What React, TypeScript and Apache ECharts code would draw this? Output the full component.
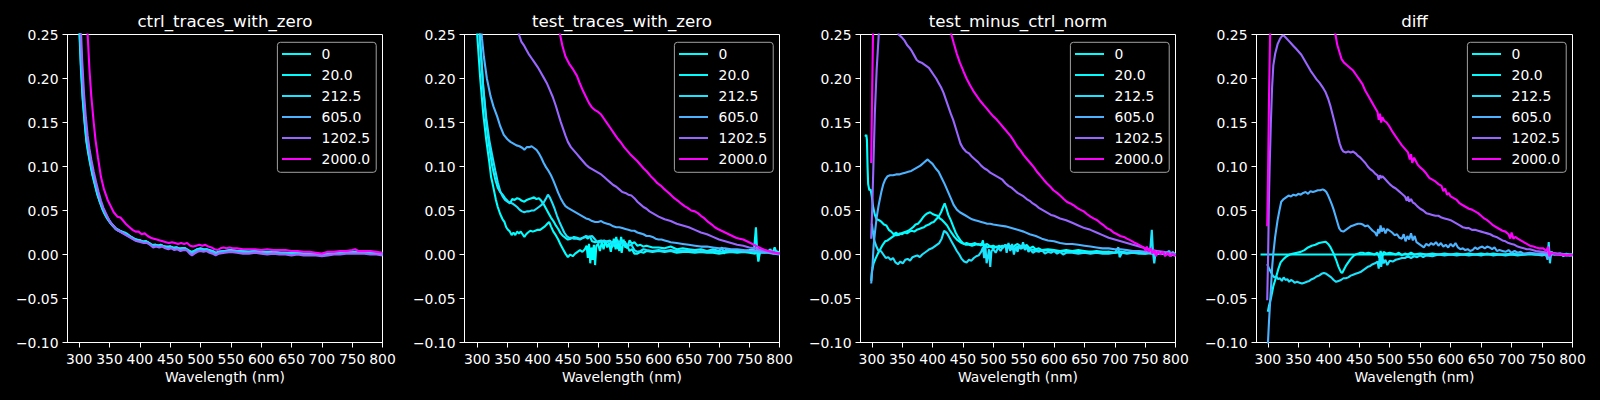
import React, { useEffect, useRef } from "react";
import * as echarts from "echarts";

// ---------- labels, colours, ticks ----------
const SERIES_LABELS = ["0", "20.0", "212.5", "605.0", "1202.5", "2000.0"];
const SERIES_COLORS = ["#00ffff", "#03fcff", "#1be4ff", "#4db2ff", "#9966ff", "#ff00ff"];
const PANEL_TITLES = ["ctrl_traces_with_zero", "test_traces_with_zero", "test_minus_ctrl_norm", "diff"];
const X_TICKS = [300, 350, 400, 450, 500, 550, 600, 650, 700, 750, 800];
const X_LABEL = "Wavelength (nm)";

// ---------- panel 1: ctrl_traces_with_zero ----------
const ctrl_0 = [[290,0.60],[295,0.40],[300,0.26],[303,0.21],[306,0.175],[309,0.15],[312,0.128],[315,0.115],[318,0.104],[322,0.090],[326,0.079],[330,0.068],[334,0.060],[338,0.052],[342,0.046],[346,0.041],[350,0.037],[355,0.033],[360,0.029],[365,0.027],[370,0.026],[375,0.024],[380,0.022],[385,0.020],[390,0.018],[395,0.016],[400,0.016],[405,0.014],[410,0.015],[415,0.013],[420,0.010],[425,0.011],[430,0.010],[435,0.011],[440,0.009],[445,0.008],[450,0.009],[455,0.007],[460,0.008],[465,0.006],[470,0.007],[475,0.007],[480,0.004],[485,0.002],[490,0.004],[495,0.006],[500,0.006],[505,0.005],[510,0.006],[515,0.004],[520,0.003],[525,0.001],[530,0.003],[540,0.004],[550,0.005],[560,0.004],[570,0.003],[580,0.003],[590,0.004],[600,0.003],[610,0.002],[620,0.003],[630,0.002],[640,0.002],[650,0.001],[660,0.002],[670,0.001],[680,0.000],[690,0.001],[700,-0.001],[710,0.001],[720,0.002],[730,0.001],[740,0.002],[750,0.002],[760,0.003],[770,0.002],[780,0.002],[790,0.001],[800,0.000]];
const ctrl_20 = [[290,0.60],[295,0.40],[300,0.265],[303,0.215],[306,0.178],[309,0.152],[312,0.130],[315,0.117],[318,0.105],[322,0.091],[326,0.080],[330,0.069],[334,0.060],[338,0.053],[342,0.047],[346,0.042],[350,0.038],[355,0.033],[360,0.030],[365,0.028],[370,0.026],[375,0.025],[380,0.023],[385,0.020],[390,0.018],[395,0.017],[400,0.016],[405,0.015],[410,0.015],[415,0.013],[420,0.011],[425,0.011],[430,0.010],[435,0.011],[440,0.009],[445,0.009],[450,0.009],[455,0.008],[460,0.008],[465,0.007],[470,0.007],[475,0.007],[480,0.005],[485,0.003],[490,0.004],[495,0.006],[500,0.007],[505,0.006],[510,0.006],[515,0.005],[520,0.004],[525,0.002],[530,0.003],[540,0.004],[550,0.005],[560,0.004],[570,0.004],[580,0.003],[590,0.004],[600,0.003],[610,0.003],[620,0.003],[630,0.002],[640,0.002],[650,0.002],[660,0.002],[670,0.001],[680,0.001],[690,0.001],[700,0.000],[710,0.001],[720,0.002],[730,0.002],[740,0.002],[750,0.003],[760,0.003],[770,0.002],[780,0.002],[790,0.002],[800,0.001]];
const ctrl_212 = [[291,0.60],[296,0.40],[301,0.265],[304,0.215],[307,0.178],[310,0.152],[313,0.131],[316,0.117],[319,0.105],[323,0.091],[327,0.080],[331,0.069],[335,0.060],[339,0.053],[343,0.047],[347,0.041],[351,0.037],[356,0.033],[361,0.029],[366,0.027],[371,0.025],[376,0.024],[381,0.022],[386,0.020],[391,0.018],[396,0.016],[401,0.016],[406,0.014],[411,0.015],[416,0.013],[421,0.010],[426,0.011],[431,0.010],[436,0.010],[441,0.009],[446,0.008],[451,0.009],[456,0.007],[461,0.008],[466,0.006],[471,0.007],[476,0.006],[481,0.004],[486,0.002],[491,0.004],[496,0.005],[501,0.006],[506,0.005],[511,0.005],[516,0.004],[521,0.003],[526,0.001],[531,0.003],[540,0.003],[550,0.004],[560,0.004],[570,0.003],[580,0.003],[590,0.003],[600,0.003],[610,0.002],[620,0.002],[630,0.002],[640,0.001],[650,0.001],[660,0.002],[670,0.001],[680,0.000],[690,0.000],[700,-0.001],[710,0.000],[720,0.001],[730,0.001],[740,0.002],[750,0.002],[760,0.002],[770,0.002],[780,0.001],[790,0.001],[800,0.000]];
const ctrl_605 = [[291,0.60],[296,0.40],[301,0.27],[304,0.22],[307,0.182],[310,0.155],[313,0.134],[316,0.119],[319,0.107],[323,0.093],[327,0.081],[331,0.070],[335,0.061],[339,0.053],[343,0.047],[347,0.042],[351,0.037],[356,0.033],[361,0.029],[366,0.027],[371,0.025],[376,0.023],[381,0.021],[386,0.019],[391,0.017],[396,0.015],[401,0.015],[406,0.014],[411,0.014],[416,0.012],[421,0.009],[426,0.010],[431,0.009],[436,0.010],[441,0.008],[446,0.007],[451,0.008],[456,0.006],[461,0.007],[466,0.005],[471,0.006],[476,0.006],[481,0.003],[486,0.001],[491,0.003],[496,0.005],[501,0.005],[506,0.004],[511,0.005],[516,0.003],[521,0.002],[526,0.000],[531,0.002],[540,0.003],[550,0.004],[560,0.003],[570,0.002],[580,0.002],[590,0.003],[600,0.002],[610,0.001],[620,0.002],[630,0.001],[640,0.001],[650,0.000],[660,0.001],[670,0.000],[680,0.000],[690,0.000],[700,-0.001],[710,0.000],[720,0.001],[730,0.001],[740,0.002],[750,0.002],[760,0.002],[770,0.002],[780,0.001],[790,0.001],[800,0.000]];
const ctrl_1202 = [[292,0.60],[297,0.40],[302,0.27],[305,0.22],[308,0.183],[311,0.156],[314,0.135],[317,0.120],[320,0.108],[324,0.094],[328,0.082],[332,0.071],[336,0.061],[340,0.053],[344,0.047],[348,0.041],[352,0.036],[357,0.032],[362,0.028],[367,0.026],[372,0.024],[377,0.022],[382,0.020],[387,0.018],[392,0.016],[397,0.015],[402,0.014],[407,0.013],[412,0.013],[417,0.011],[422,0.008],[427,0.009],[432,0.008],[437,0.009],[442,0.007],[447,0.006],[452,0.007],[457,0.005],[462,0.006],[467,0.004],[472,0.005],[477,0.005],[482,0.001],[486,-0.001],[490,0.001],[495,0.003],[500,0.004],[505,0.003],[510,0.004],[515,0.002],[520,0.001],[525,-0.001],[530,0.001],[540,0.002],[550,0.003],[560,0.002],[570,0.001],[580,0.001],[590,0.002],[600,0.001],[610,0.000],[620,0.001],[630,0.000],[640,0.000],[650,-0.001],[660,0.000],[670,-0.001],[680,-0.001],[690,-0.001],[700,-0.002],[710,-0.001],[720,0.000],[730,0.000],[740,0.001],[750,0.001],[760,0.001],[770,0.001],[780,0.000],[790,0.000],[800,-0.001]];
const ctrl_2000 = [[295,0.60],[300,0.40],[305,0.33],[310,0.27],[314,0.25],[317,0.21],[320,0.18],[324,0.150],[327,0.130],[331,0.110],[336,0.088],[341,0.074],[347,0.062],[352,0.055],[357,0.048],[363,0.043],[368,0.042],[373,0.038],[378,0.034],[383,0.031],[388,0.028],[393,0.026],[398,0.026],[403,0.023],[408,0.024],[413,0.021],[418,0.019],[423,0.018],[428,0.017],[433,0.016],[438,0.015],[443,0.014],[448,0.013],[453,0.014],[458,0.013],[463,0.012],[468,0.013],[473,0.012],[478,0.013],[483,0.010],[488,0.009],[493,0.010],[498,0.011],[503,0.010],[508,0.011],[513,0.009],[518,0.008],[523,0.006],[528,0.005],[533,0.007],[538,0.008],[543,0.007],[548,0.008],[553,0.007],[560,0.007],[570,0.006],[580,0.006],[590,0.006],[600,0.005],[610,0.006],[620,0.005],[630,0.005],[640,0.005],[650,0.004],[660,0.004],[670,0.003],[680,0.003],[690,0.002],[700,0.001],[710,0.003],[720,0.003],[730,0.004],[740,0.004],[750,0.005],[755,0.006],[760,0.004],[770,0.004],[780,0.004],[790,0.003],[800,0.002]];

// ---------- panel 2: test_traces_with_zero ----------
const test_0 = [[290,0.45],[300,0.25],[305,0.20],[310,0.16],[315,0.13],[320,0.105],[323,0.088],[325,0.082],[328,0.072],[331,0.062],[334,0.054],[338,0.046],[342,0.040],[345,0.037],[348,0.031],[351,0.028],[354,0.026],[357,0.022],[360,0.025],[363,0.022],[366,0.026],[369,0.024],[372,0.026],[375,0.023],[378,0.020],[381,0.023],[384,0.025],[388,0.027],[392,0.026],[396,0.027],[400,0.028],[404,0.028],[408,0.030],[412,0.032],[416,0.035],[419,0.037],[422,0.032],[426,0.026],[430,0.022],[434,0.017],[438,0.011],[442,0.006],[446,0.001],[450,-0.003],[454,0.000],[458,-0.002],[462,0.001],[466,0.003],[470,0.005],[474,0.003],[478,0.006],[481,0.010],[483,-0.004],[485,0.012],[487,-0.010],[489,0.008],[491,-0.006],[493,0.011],[495,-0.012],[497,0.010],[500,0.012],[503,0.004],[506,0.014],[509,0.006],[512,0.016],[515,0.008],[518,0.013],[521,0.003],[524,0.015],[527,0.009],[530,0.020],[533,0.006],[536,0.012],[539,0.002],[542,0.017],[545,0.008],[548,0.010],[552,0.004],[556,0.006],[560,0.001],[565,0.001],[570,0.003],[575,0.002],[580,0.004],[590,0.003],[600,0.004],[610,0.003],[620,0.004],[630,0.002],[640,0.003],[650,0.003],[660,0.002],[670,0.003],[680,0.002],[690,0.002],[700,0.001],[710,0.002],[720,0.003],[730,0.002],[740,0.003],[750,0.002],[760,0.001],[763,0.008],[765,-0.007],[768,0.003],[775,0.002],[785,0.003],[790,0.001],[795,0.004],[800,0.001]];
const test_20 = [[290,0.50],[300,0.30],[305,0.24],[310,0.19],[315,0.15],[320,0.122],[325,0.10],[330,0.085],[334,0.076],[338,0.071],[342,0.068],[346,0.064],[350,0.061],[354,0.058],[358,0.063],[362,0.062],[366,0.064],[370,0.063],[374,0.061],[378,0.060],[382,0.062],[386,0.063],[390,0.064],[394,0.065],[398,0.063],[402,0.064],[406,0.061],[410,0.057],[414,0.052],[418,0.047],[422,0.042],[426,0.038],[430,0.033],[434,0.029],[438,0.024],[442,0.021],[446,0.019],[450,0.017],[455,0.018],[460,0.020],[465,0.019],[470,0.018],[475,0.019],[480,0.020],[483,0.018],[486,0.021],[490,0.015],[495,0.014],[500,0.015],[505,0.016],[510,0.014],[515,0.015],[520,0.016],[523,0.008],[526,0.018],[529,0.006],[532,0.017],[535,0.004],[538,0.020],[541,0.010],[544,0.015],[548,0.007],[552,0.016],[556,0.012],[560,0.014],[565,0.010],[570,0.011],[575,0.009],[580,0.010],[590,0.008],[600,0.008],[610,0.007],[620,0.009],[630,0.006],[640,0.007],[650,0.006],[660,0.005],[670,0.006],[680,0.004],[690,0.006],[700,0.004],[705,0.008],[708,0.001],[712,0.006],[720,0.004],[730,0.005],[740,0.004],[750,0.005],[758,0.006],[761,0.031],[763,0.004],[765,-0.008],[767,0.005],[772,0.004],[780,0.003],[785,0.006],[788,0.001],[792,0.008],[795,0.002],[800,0.003]];
const test_212 = [[290,0.50],[300,0.30],[305,0.24],[310,0.19],[315,0.155],[320,0.13],[325,0.112],[330,0.095],[334,0.082],[338,0.072],[342,0.066],[346,0.062],[350,0.060],[354,0.059],[358,0.058],[362,0.056],[366,0.054],[370,0.051],[374,0.049],[378,0.048],[382,0.049],[386,0.049],[390,0.050],[394,0.050],[398,0.052],[402,0.054],[406,0.056],[410,0.059],[414,0.064],[417,0.068],[420,0.065],[424,0.059],[428,0.052],[432,0.044],[436,0.037],[440,0.031],[444,0.025],[448,0.021],[452,0.019],[456,0.019],[460,0.018],[465,0.018],[470,0.017],[475,0.019],[480,0.021],[485,0.020],[490,0.021],[495,0.017],[500,0.013],[505,0.015],[510,0.016],[515,0.014],[520,0.015],[525,0.011],[530,0.013],[535,0.015],[540,0.012],[545,0.013],[550,0.010],[555,0.011],[560,0.005],[565,0.003],[570,0.004],[575,0.006],[580,0.005],[590,0.004],[600,0.005],[610,0.004],[620,0.005],[630,0.004],[640,0.004],[650,0.005],[660,0.003],[670,0.004],[680,0.003],[690,0.004],[700,0.003],[710,0.004],[720,0.003],[730,0.004],[740,0.003],[750,0.004],[760,0.003],[770,0.002],[780,0.003],[790,0.002],[800,0.002]];
const test_605 = [[290,0.55],[300,0.36],[305,0.27],[308,0.245],[311,0.225],[316,0.20],[322,0.18],[327,0.168],[333,0.157],[338,0.146],[344,0.136],[350,0.131],[355,0.128],[360,0.126],[365,0.124],[370,0.123],[375,0.121],[378,0.119],[382,0.122],[386,0.122],[390,0.123],[394,0.121],[398,0.119],[402,0.115],[406,0.110],[410,0.104],[414,0.099],[418,0.095],[422,0.090],[426,0.084],[430,0.077],[434,0.070],[438,0.064],[442,0.059],[446,0.055],[450,0.053],[455,0.051],[460,0.049],[465,0.047],[470,0.045],[475,0.043],[480,0.041],[485,0.040],[490,0.038],[495,0.037],[500,0.037],[505,0.038],[510,0.036],[515,0.035],[520,0.034],[525,0.032],[530,0.031],[535,0.031],[540,0.030],[545,0.029],[550,0.028],[555,0.027],[560,0.027],[565,0.025],[570,0.024],[575,0.023],[580,0.021],[585,0.021],[590,0.020],[595,0.018],[600,0.017],[605,0.017],[610,0.016],[615,0.015],[620,0.014],[630,0.013],[640,0.012],[650,0.011],[660,0.010],[670,0.009],[680,0.009],[690,0.008],[700,0.007],[710,0.007],[720,0.006],[730,0.006],[740,0.005],[750,0.004],[760,0.004],[770,0.003],[780,0.002],[790,0.001],[800,0.000]];
const test_1202 = [[350,0.32],[360,0.28],[365,0.262],[369,0.25],[373,0.242],[377,0.238],[381,0.233],[385,0.228],[390,0.223],[395,0.218],[400,0.213],[405,0.207],[410,0.201],[415,0.195],[420,0.187],[425,0.179],[430,0.169],[434,0.160],[438,0.151],[442,0.143],[446,0.135],[450,0.128],[455,0.122],[460,0.118],[465,0.114],[470,0.110],[475,0.106],[480,0.102],[485,0.099],[490,0.097],[495,0.095],[500,0.093],[505,0.091],[510,0.088],[515,0.085],[520,0.082],[525,0.079],[530,0.077],[535,0.074],[540,0.071],[545,0.070],[550,0.068],[555,0.067],[560,0.064],[565,0.060],[570,0.057],[575,0.054],[580,0.052],[585,0.049],[590,0.047],[595,0.045],[600,0.043],[610,0.040],[620,0.038],[630,0.035],[640,0.033],[650,0.031],[660,0.028],[670,0.025],[680,0.023],[690,0.020],[700,0.017],[710,0.015],[720,0.013],[730,0.011],[740,0.010],[750,0.008],[760,0.007],[770,0.005],[780,0.004],[790,0.002],[800,0.001]];
const test_2000 = [[420,0.31],[430,0.272],[437,0.25],[441,0.237],[446,0.225],[452,0.217],[458,0.211],[465,0.203],[470,0.194],[475,0.186],[480,0.179],[485,0.172],[490,0.167],[495,0.164],[500,0.162],[505,0.159],[510,0.154],[515,0.149],[520,0.144],[526,0.138],[532,0.132],[538,0.127],[543,0.122],[548,0.118],[553,0.114],[559,0.110],[565,0.106],[570,0.102],[575,0.098],[581,0.094],[587,0.089],[593,0.085],[598,0.081],[604,0.078],[610,0.074],[615,0.071],[620,0.068],[626,0.064],[632,0.061],[637,0.058],[643,0.055],[648,0.053],[654,0.050],[660,0.049],[665,0.047],[670,0.044],[676,0.041],[682,0.037],[688,0.034],[693,0.031],[698,0.029],[704,0.027],[710,0.025],[716,0.023],[722,0.021],[728,0.019],[734,0.018],[740,0.017],[746,0.015],[752,0.013],[758,0.011],[764,0.009],[770,0.007],[776,0.005],[782,0.004],[788,0.003],[794,0.002],[800,0.001]];

// ---------- panel 3: test_minus_ctrl_norm ----------
const norm_0 = [[289,0.134],[291,0.136],[292,0.130],[293,0.100],[294,0.080],[296,0.073],[298,0.074],[300,0.066],[302,0.055],[305,0.045],[308,0.040],[312,0.039],[316,0.037],[320,0.034],[324,0.033],[328,0.028],[332,0.026],[336,0.023],[340,0.025],[344,0.022],[348,0.024],[352,0.025],[356,0.026],[360,0.027],[364,0.029],[368,0.031],[372,0.034],[376,0.035],[380,0.038],[384,0.042],[388,0.045],[392,0.047],[396,0.048],[400,0.046],[404,0.045],[408,0.044],[412,0.041],[416,0.039],[420,0.036],[424,0.033],[428,0.028],[432,0.024],[436,0.020],[440,0.017],[444,0.015],[448,0.013],[452,0.012],[456,0.013],[460,0.012],[465,0.012],[470,0.013],[475,0.011],[480,0.012],[485,0.010],[490,0.012],[495,0.009],[500,0.010],[505,0.008],[510,0.010],[515,0.007],[520,0.011],[525,0.008],[530,0.010],[535,0.006],[540,0.009],[545,0.007],[550,0.008],[555,0.011],[560,0.007],[565,0.009],[570,0.006],[575,0.007],[580,0.005],[590,0.006],[600,0.005],[610,0.004],[620,0.005],[630,0.004],[640,0.005],[650,0.004],[660,0.003],[670,0.004],[680,0.003],[690,0.003],[700,0.002],[710,0.003],[720,0.002],[730,0.003],[740,0.002],[750,0.002],[760,0.001],[770,0.002],[780,0.001],[790,0.001],[800,0.000]];
const norm_20 = [[299,-0.030],[300,-0.020],[303,-0.010],[306,-0.005],[310,0.001],[314,0.006],[318,0.011],[322,0.015],[326,0.016],[330,0.018],[334,0.020],[338,0.022],[342,0.022],[346,0.024],[350,0.023],[354,0.025],[358,0.024],[362,0.026],[366,0.027],[370,0.026],[374,0.028],[378,0.029],[382,0.030],[386,0.031],[390,0.033],[394,0.034],[398,0.036],[402,0.037],[406,0.040],[410,0.043],[414,0.048],[418,0.055],[420,0.058],[423,0.052],[426,0.045],[430,0.039],[434,0.032],[438,0.025],[442,0.020],[446,0.016],[450,0.013],[455,0.011],[460,0.011],[465,0.010],[470,0.011],[475,0.012],[480,0.010],[483,0.016],[485,0.004],[487,0.012],[490,0.008],[495,0.009],[500,0.007],[505,0.009],[510,0.008],[515,0.010],[520,0.009],[525,0.011],[530,0.006],[535,0.010],[540,0.012],[545,0.009],[550,0.011],[555,0.007],[560,0.006],[570,0.005],[580,0.004],[590,0.005],[600,0.004],[610,0.003],[620,0.004],[630,0.003],[640,0.003],[650,0.002],[660,0.003],[670,0.002],[680,0.002],[690,0.003],[700,0.002],[710,0.003],[720,0.002],[730,0.002],[740,0.002],[750,0.001],[760,0.002],[770,0.001],[780,0.001],[790,0.001],[800,0.000]];
const norm_212 = [[300,0.035],[302,0.025],[304,0.016],[307,0.010],[311,0.004],[315,0.004],[319,0.000],[323,-0.004],[327,-0.003],[331,-0.006],[335,-0.004],[339,-0.009],[343,-0.011],[347,-0.008],[351,-0.010],[355,-0.006],[359,-0.005],[363,-0.007],[367,-0.003],[371,-0.002],[375,-0.001],[379,-0.003],[383,0.000],[387,0.002],[391,0.004],[395,0.006],[399,0.007],[403,0.009],[407,0.011],[411,0.013],[415,0.018],[419,0.027],[421,0.026],[424,0.024],[428,0.019],[432,0.014],[436,0.009],[440,0.004],[444,0.000],[448,-0.005],[452,-0.008],[456,-0.009],[460,-0.006],[464,-0.007],[468,-0.004],[472,-0.002],[476,-0.001],[480,0.003],[483,0.008],[485,-0.004],[487,0.010],[489,-0.010],[491,-0.003],[493,0.006],[495,-0.014],[497,0.004],[500,0.006],[504,0.002],[508,0.008],[512,0.004],[516,0.009],[520,0.011],[522,0.002],[525,0.013],[528,0.004],[531,0.012],[534,0.000],[537,0.009],[540,0.003],[543,0.011],[546,0.006],[549,0.014],[552,0.005],[555,0.009],[558,0.003],[561,0.006],[565,0.002],[570,0.004],[575,0.003],[580,0.005],[585,0.001],[590,0.003],[595,0.002],[600,0.004],[605,0.001],[610,0.003],[615,0.000],[620,0.002],[630,0.002],[640,0.001],[650,0.002],[660,0.001],[670,0.002],[680,0.001],[690,0.001],[700,0.002],[706,0.008],[708,-0.003],[712,0.002],[720,0.001],[730,0.002],[740,0.001],[750,0.001],[758,0.002],[761,0.028],[763,0.002],[765,-0.010],[767,0.001],[775,0.001],[785,0.002],[790,0.004],[792,-0.002],[795,0.003],[800,0.000]];
const norm_605 = [[299,-0.033],[301,-0.015],[303,0.010],[305,0.024],[308,0.042],[311,0.055],[313,0.062],[316,0.072],[319,0.080],[322,0.085],[326,0.089],[330,0.090],[335,0.090],[340,0.091],[345,0.091],[350,0.092],[355,0.093],[360,0.094],[365,0.095],[370,0.097],[375,0.099],[380,0.101],[385,0.104],[390,0.107],[392,0.108],[395,0.106],[400,0.103],[405,0.098],[410,0.094],[415,0.087],[420,0.080],[425,0.072],[430,0.064],[435,0.056],[440,0.051],[445,0.048],[450,0.046],[455,0.044],[460,0.042],[465,0.040],[470,0.039],[475,0.038],[480,0.037],[485,0.036],[490,0.035],[495,0.035],[500,0.034],[510,0.033],[520,0.032],[530,0.030],[540,0.028],[550,0.026],[560,0.023],[570,0.021],[580,0.018],[590,0.016],[600,0.015],[610,0.013],[620,0.012],[630,0.012],[640,0.011],[650,0.010],[660,0.009],[670,0.008],[680,0.007],[690,0.007],[700,0.006],[710,0.006],[720,0.005],[730,0.004],[740,0.004],[750,0.003],[760,0.002],[770,0.002],[780,0.001],[790,0.000],[800,-0.001]];
const norm_1202 = [[299,0.018],[301,0.060],[303,0.110],[305,0.160],[308,0.210],[311,0.245],[313,0.27],[320,0.32],[330,0.31],[340,0.27],[344,0.250],[349,0.247],[354,0.243],[358,0.238],[362,0.235],[366,0.231],[370,0.226],[374,0.221],[378,0.219],[382,0.218],[386,0.216],[390,0.214],[394,0.212],[398,0.208],[402,0.204],[406,0.200],[410,0.195],[414,0.190],[418,0.184],[422,0.176],[426,0.168],[430,0.160],[434,0.153],[438,0.144],[442,0.135],[446,0.126],[450,0.121],[455,0.117],[460,0.115],[465,0.111],[470,0.108],[475,0.105],[480,0.101],[485,0.098],[490,0.096],[495,0.093],[500,0.091],[505,0.089],[510,0.087],[515,0.085],[520,0.081],[525,0.078],[530,0.076],[535,0.073],[540,0.070],[545,0.068],[550,0.066],[555,0.063],[560,0.061],[565,0.058],[570,0.056],[575,0.053],[580,0.051],[585,0.049],[590,0.047],[595,0.045],[600,0.044],[610,0.041],[620,0.039],[630,0.036],[640,0.033],[650,0.030],[660,0.028],[670,0.025],[680,0.022],[690,0.019],[700,0.017],[710,0.015],[720,0.013],[730,0.011],[740,0.009],[750,0.007],[760,0.005],[770,0.004],[780,0.003],[790,0.002],[800,0.000]];
const norm_2000 = [[299,0.104],[300.5,0.18],[302,0.25],[303,0.29],[320,0.45],[400,0.35],[425,0.27],[431,0.25],[435,0.240],[440,0.228],[445,0.218],[451,0.208],[456,0.200],[462,0.192],[467,0.186],[473,0.180],[478,0.175],[484,0.170],[489,0.166],[495,0.161],[500,0.157],[506,0.153],[511,0.149],[517,0.144],[522,0.140],[528,0.135],[533,0.130],[539,0.123],[545,0.118],[550,0.113],[556,0.108],[561,0.104],[567,0.099],[572,0.094],[577,0.090],[583,0.085],[588,0.081],[594,0.077],[599,0.073],[605,0.070],[610,0.067],[616,0.063],[621,0.060],[627,0.058],[632,0.056],[638,0.053],[643,0.051],[649,0.049],[654,0.046],[660,0.043],[665,0.041],[671,0.039],[676,0.036],[682,0.033],[687,0.030],[693,0.028],[698,0.025],[704,0.023],[709,0.021],[715,0.020],[720,0.018],[726,0.016],[731,0.014],[737,0.012],[742,0.010],[748,0.008],[751,0.004],[753,0.009],[756,0.003],[759,0.007],[762,0.001],[765,0.005],[768,-0.002],[771,0.004],[775,0.000],[779,0.003],[783,-0.002],[787,0.002],[791,-0.002],[795,0.001],[800,-0.002]];

// ---------- panel 4: diff ----------
const diff_0 = [[288,0],[800,0]];
const diff_20 = [[300,-0.065],[302,-0.058],[305,-0.050],[309,-0.036],[313,-0.027],[317,-0.017],[321,-0.009],[326,-0.005],[331,-0.002],[336,0.000],[342,0.001],[348,0.002],[354,0.003],[360,0.005],[366,0.008],[372,0.010],[378,0.011],[384,0.013],[390,0.014],[395,0.0145],[399,0.012],[403,0.008],[408,0.001],[412,-0.006],[416,-0.014],[420,-0.020],[422,-0.021],[425,-0.017],[428,-0.013],[432,-0.009],[436,-0.005],[440,-0.002],[444,0.000],[448,0.001],[452,0.002],[456,0.002],[460,0.001],[465,0.002],[470,0.001],[475,0.000],[480,0.002],[483,-0.004],[485,0.004],[488,-0.003],[490,0.003],[495,0.001],[500,0.002],[505,0.001],[510,0.000],[515,0.002],[520,-0.001],[525,0.001],[530,0.000],[535,0.002],[540,0.000],[550,0.001],[560,0.000],[570,0.001],[580,0.000],[590,0.001],[600,0.000],[610,0.001],[620,0.000],[630,0.001],[640,0.000],[650,0.001],[660,0.000],[670,0.001],[680,0.000],[690,0.000],[700,0.001],[710,0.000],[720,0.000],[730,0.001],[740,0.000],[750,0.001],[760,0.000],[770,0.001],[780,0.000],[790,0.000],[800,0.000]];
const diff_212 = [[299,-0.011],[302,-0.016],[305,-0.020],[308,-0.024],[311,-0.026],[314,-0.025],[317,-0.028],[320,-0.027],[323,-0.030],[326,-0.026],[329,-0.029],[332,-0.028],[335,-0.031],[338,-0.029],[341,-0.030],[344,-0.032],[348,-0.031],[352,-0.032],[356,-0.033],[360,-0.032],[364,-0.031],[368,-0.030],[372,-0.028],[376,-0.027],[380,-0.025],[384,-0.024],[388,-0.022],[392,-0.021],[396,-0.022],[400,-0.024],[404,-0.026],[408,-0.029],[412,-0.031],[416,-0.030],[420,-0.029],[424,-0.027],[428,-0.027],[432,-0.026],[436,-0.024],[440,-0.023],[444,-0.022],[448,-0.021],[452,-0.020],[456,-0.018],[460,-0.016],[464,-0.014],[468,-0.013],[472,-0.011],[476,-0.010],[480,-0.008],[482,-0.016],[484,0.002],[486,-0.014],[488,-0.003],[490,-0.010],[493,-0.006],[496,-0.012],[500,-0.007],[505,-0.008],[510,-0.006],[515,-0.005],[520,-0.004],[525,-0.004],[530,-0.002],[535,-0.004],[540,-0.002],[545,-0.003],[550,-0.001],[555,-0.003],[560,-0.001],[570,-0.002],[580,0.000],[590,-0.001],[600,0.000],[610,-0.001],[620,0.000],[630,-0.001],[640,0.000],[650,-0.001],[660,0.001],[670,-0.001],[680,0.000],[690,-0.001],[700,0.000],[710,-0.001],[720,0.000],[730,0.001],[740,0.000],[750,-0.001],[756,0.000],[759,-0.004],[761,0.014],[763,-0.010],[765,0.003],[770,0.000],[780,0.001],[785,-0.002],[790,0.001],[795,-0.001],[800,0.000]];
const diff_605 = [[299.5,-0.11],[302,-0.075],[305,-0.040],[307,-0.015],[309,0.001],[312,0.020],[316,0.039],[319,0.050],[322,0.060],[326,0.063],[330,0.065],[334,0.067],[338,0.066],[342,0.068],[346,0.067],[350,0.069],[354,0.068],[358,0.070],[362,0.071],[366,0.069],[370,0.072],[374,0.071],[378,0.072],[382,0.073],[386,0.073],[390,0.074],[393,0.073],[396,0.071],[399,0.067],[402,0.062],[405,0.057],[408,0.051],[411,0.044],[414,0.037],[417,0.030],[420,0.027],[424,0.026],[428,0.028],[432,0.030],[436,0.032],[440,0.033],[444,0.034],[448,0.035],[452,0.035],[456,0.034],[460,0.032],[464,0.033],[468,0.030],[472,0.027],[476,0.025],[479,0.021],[481,0.029],[483,0.024],[485,0.033],[487,0.026],[490,0.030],[493,0.024],[496,0.029],[500,0.027],[504,0.025],[508,0.022],[512,0.023],[516,0.019],[520,0.018],[523,0.023],[526,0.015],[529,0.021],[532,0.017],[535,0.024],[538,0.016],[541,0.021],[544,0.014],[548,0.012],[552,0.010],[556,0.008],[560,0.012],[564,0.010],[568,0.013],[572,0.011],[576,0.014],[580,0.010],[584,0.013],[588,0.009],[592,0.011],[596,0.008],[600,0.012],[604,0.009],[608,0.013],[612,0.008],[616,0.006],[620,0.007],[624,0.005],[628,0.006],[632,0.004],[636,0.005],[640,0.008],[644,0.006],[648,0.008],[652,0.009],[656,0.007],[660,0.009],[664,0.008],[668,0.006],[672,0.008],[676,0.004],[680,0.005],[685,0.004],[690,0.003],[695,0.005],[700,0.002],[705,0.004],[710,0.002],[715,0.003],[720,0.001],[730,0.002],[740,0.001],[750,0.001],[756,0.002],[759,-0.006],[761,0.008],[763,-0.005],[765,0.003],[770,0.001],[780,0.000],[790,-0.001],[800,-0.001]];
const diff_1202 = [[299,-0.052],[300.5,0.000],[302,0.070],[303,0.100],[305,0.150],[307,0.190],[309,0.215],[312,0.228],[316,0.239],[320,0.245],[323,0.248],[326,0.249],[330,0.246],[334,0.243],[338,0.240],[342,0.237],[346,0.234],[350,0.231],[355,0.227],[360,0.221],[365,0.215],[370,0.209],[375,0.204],[380,0.199],[385,0.195],[390,0.190],[395,0.184],[399,0.177],[403,0.168],[407,0.157],[411,0.146],[415,0.134],[418,0.126],[421,0.120],[424,0.117],[428,0.116],[432,0.117],[436,0.116],[440,0.117],[444,0.115],[448,0.112],[452,0.110],[456,0.107],[460,0.104],[464,0.100],[468,0.097],[472,0.095],[476,0.092],[480,0.090],[482,0.085],[484,0.090],[486,0.087],[488,0.089],[492,0.086],[496,0.083],[500,0.080],[505,0.077],[510,0.075],[515,0.072],[520,0.069],[525,0.066],[528,0.061],[530,0.066],[532,0.060],[535,0.063],[538,0.059],[541,0.058],[545,0.055],[550,0.052],[555,0.050],[560,0.047],[565,0.046],[570,0.045],[575,0.044],[580,0.044],[585,0.042],[590,0.041],[595,0.040],[600,0.039],[605,0.037],[610,0.035],[615,0.033],[620,0.031],[625,0.030],[630,0.030],[635,0.028],[640,0.028],[645,0.027],[650,0.026],[655,0.025],[660,0.024],[665,0.023],[670,0.021],[675,0.020],[680,0.018],[685,0.016],[690,0.015],[695,0.013],[700,0.012],[705,0.011],[710,0.009],[715,0.008],[720,0.007],[725,0.006],[730,0.006],[740,0.004],[750,0.003],[760,0.002],[770,0.001],[780,0.001],[790,0.000],[800,-0.001]];
const diff_2000 = [[299,0.032],[300.5,0.10],[302,0.18],[303.5,0.24],[305,0.30],[330,0.50],[400,0.30],[408,0.262],[411,0.250],[414,0.238],[418,0.229],[421,0.222],[425,0.218],[430,0.215],[435,0.212],[440,0.209],[445,0.204],[450,0.199],[455,0.194],[460,0.186],[465,0.180],[470,0.174],[475,0.168],[480,0.162],[482,0.153],[484,0.160],[486,0.150],[488,0.156],[491,0.152],[495,0.150],[500,0.145],[505,0.139],[510,0.134],[515,0.129],[520,0.124],[525,0.120],[530,0.116],[533,0.108],[535,0.114],[537,0.104],[540,0.110],[543,0.106],[546,0.102],[550,0.099],[555,0.096],[560,0.092],[565,0.087],[570,0.085],[575,0.083],[580,0.080],[585,0.078],[588,0.072],[591,0.075],[594,0.068],[597,0.070],[600,0.066],[605,0.064],[610,0.062],[615,0.058],[620,0.056],[625,0.054],[630,0.052],[635,0.051],[640,0.049],[645,0.047],[650,0.044],[655,0.041],[660,0.039],[665,0.036],[670,0.033],[675,0.031],[680,0.029],[685,0.027],[690,0.026],[695,0.023],[698,0.018],[700,0.025],[703,0.018],[706,0.020],[710,0.018],[715,0.016],[720,0.014],[725,0.012],[730,0.010],[736,0.009],[740,0.008],[745,0.007],[752,0.007],[757,0.004],[760,0.009],[762,-0.002],[765,0.002],[774,0.000],[780,0.000],[790,-0.001],[800,0.000]];

const PANEL_DATA = [
  [ctrl_0, ctrl_20, ctrl_212, ctrl_605, ctrl_1202, ctrl_2000],
  [test_0, test_20, test_212, test_605, test_1202, test_2000],
  [norm_0, norm_20, norm_212, norm_605, norm_1202, norm_2000],
  [diff_0, diff_20, diff_212, diff_605, diff_1202, diff_2000],
];

// ---------- layout (pixels, on half-pixels for crisp 1px frames) ----------
const GRIDS = [
  { left: 67.5, width: 315, xMin: 280.8 },
  { left: 464.5, width: 315, xMin: 279 },
  { left: 860.5, width: 315, xMin: 281.4 },
  { left: 1256.5, width: 316, xMin: 281.4 },
];
const GRID_TOP = 34.5;
const GRID_HEIGHT = 308;
const FONT = "DejaVu Sans";
const LEGEND_W = 98.6;

function fmtY(v: number): string {
  if (Math.abs(v) < 1e-9) return "0.00";
  const s = Math.abs(v).toFixed(2);
  return v < 0 ? "\u2212" + s : s;
}

function buildOption() {
  const grid = GRIDS.map((g) => ({
    left: g.left,
    top: GRID_TOP,
    width: g.width,
    height: GRID_HEIGHT,
    show: true,
    borderColor: "#ffffff",
    borderWidth: 1,
    backgroundColor: "#000000",
  }));
  const xAxis = GRIDS.map((g, i) => ({
    type: "value",
    gridIndex: i,
    min: g.xMin,
    max: 800,
    name: X_LABEL,
    nameLocation: "middle",
    nameGap: 27,
    nameTextStyle: { color: "#ffffff", fontSize: 13.9, fontFamily: FONT },
    axisLine: { show: true, onZero: false, lineStyle: { color: "#ffffff", width: 1 } },
    axisTick: { show: true, length: 5, customValues: X_TICKS, lineStyle: { color: "#ffffff", width: 1 } },
    axisLabel: {
      customValues: X_TICKS,
      color: "#ffffff",
      fontSize: 13.9,
      fontFamily: FONT,
      margin: 9,
      formatter: (v: number) => String(v),
    },
    splitLine: { show: false },
  }));
  const yAxis = GRIDS.map((g, i) => ({
    type: "value",
    gridIndex: i,
    min: -0.1,
    max: 0.25,
    interval: 0.05,
    axisLine: { show: true, onZero: false, lineStyle: { color: "#ffffff", width: 1 } },
    axisTick: { show: true, length: 5, lineStyle: { color: "#ffffff", width: 1 } },
    axisLabel: { color: "#ffffff", fontSize: 13.9, fontFamily: FONT, margin: 9, formatter: fmtY },
    splitLine: { show: false },
  }));
  const title = GRIDS.map((g, i) => ({
    text: PANEL_TITLES[i],
    left: g.left + g.width / 2,
    top: 12,
    textAlign: "center",
    textVerticalAlign: "top",
    padding: 0,
    textStyle: { color: "#ffffff", fontSize: 16.7, fontWeight: "normal", fontFamily: FONT },
  }));
  const legend = GRIDS.map((g) => ({
    data: SERIES_LABELS,
    orient: "vertical",
    left: g.left + g.width - 6.5 - LEGEND_W,
    top: 42.3,
    align: "left",
    icon: "rect",
    itemWidth: 29,
    itemHeight: 2,
    itemGap: 0,
    selectedMode: false,
    backgroundColor: "#000000",
    borderColor: "#a0a0a0",
    borderWidth: 1,
    borderRadius: 3,
    padding: [1.2, 6, 2.8, 4.6],
    itemStyle: { borderWidth: 0 },
    textStyle: {
      color: "#ffffff",
      fontSize: 13.9,
      fontFamily: FONT,
      lineHeight: 21,
      padding: [0, 0, 0, 5.6],
    },
  }));
  const series: any[] = [];
  PANEL_DATA.forEach((panel, pi) => {
    panel.forEach((data, si) => {
      series.push({
        type: "line",
        name: SERIES_LABELS[si],
        xAxisIndex: pi,
        yAxisIndex: pi,
        data,
        showSymbol: false,
        symbol: "none",
        clip: true,
        silent: true,
        lineStyle: { color: SERIES_COLORS[si], width: 2.1 },
        itemStyle: { color: SERIES_COLORS[si] },
      });
    });
  });
  return {
    animation: false,
    backgroundColor: "#000000",
    textStyle: { fontFamily: FONT },
    title,
    legend,
    grid,
    xAxis,
    yAxis,
    series,
  };
}

export default function App() {
  const ref = useRef<HTMLDivElement>(null);
  useEffect(() => {
    if (!ref.current) return;
    const chart = echarts.init(ref.current, undefined, { renderer: "svg" });
    chart.setOption(buildOption() as any);
    return () => chart.dispose();
  }, []);
  return (
    <div
      ref={ref}
      style={{ position: "absolute", left: 0, top: 0, width: 1600, height: 400, background: "#000" }}
    />
  );
}
